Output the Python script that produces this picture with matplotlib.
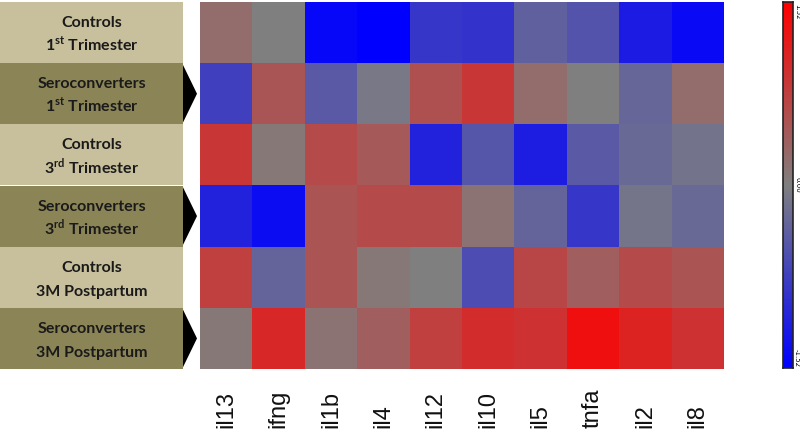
import numpy as np
import matplotlib
matplotlib.use("Agg")
import matplotlib.pyplot as plt
from matplotlib.colors import LinearSegmentedColormap
from matplotlib.patches import Rectangle, Polygon

plt.rcParams["mathtext.fontset"] = "custom"
plt.rcParams["mathtext.rm"] = "Lato:bold"
plt.rcParams["mathtext.bf"] = "Lato:bold"

# Data
cytokines = ["il13", "ifng", "il1b", "il4", "il12", "il10", "il5", "tnfa", "il2", "il8"]
group_names = ["Controls", "Seroconverters", "Controls", "Seroconverters", "Controls", "Seroconverters"]
group_times = [
    "1$^{\\mathrm{st}}$ Trimester",
    "1$^{\\mathrm{st}}$ Trimester",
    "3$^{\\mathrm{rd}}$ Trimester",
    "3$^{\\mathrm{rd}}$ Trimester",
    "3M Postpartum",
    "3M Postpartum",
]
controls_1st = [0.23, 0.00, -1.44, -1.52, -0.87, -0.91, -0.38, -0.53, -1.19, -1.41]
sero_1st = [-0.76, 0.50, -0.46, -0.09, 0.56, 0.87, 0.23, 0.00, -0.30, 0.23]
controls_3rd = [0.87, 0.09, 0.64, 0.46, -1.11, -0.50, -1.17, -0.46, -0.27, -0.15]
sero_3rd = [-1.11, -1.37, 0.52, 0.64, 0.64, 0.15, -0.33, -0.87, -0.12, -0.27]
controls_3m = [0.76, -0.33, 0.52, 0.09, 0.00, -0.61, 0.68, 0.40, 0.64, 0.52]
sero_3m = [0.09, 1.05, 0.15, 0.40, 0.76, 0.99, 0.93, 1.34, 1.11, 0.93]
vlim = 1.52

values = np.array([controls_1st, sero_1st, controls_3rd, sero_3rd, controls_3m, sero_3m])

cmap = LinearSegmentedColormap.from_list("bgr", ["#0000ff", "#808080", "#ff0000"])

W, H = 800, 433
fig = plt.figure(figsize=(8, 4.33), dpi=100)


def px_axes(x0, y0, x1, y1):
    return fig.add_axes([x0 / W, 1 - y1 / H, (x1 - x0) / W, (y1 - y0) / H])


# heatmap
ax = px_axes(200, 2, 724, 369)
ax.imshow(values, cmap=cmap, vmin=-vlim, vmax=vlim, aspect="auto", interpolation="nearest")
ax.set_xticks([])
ax.set_yticks([])
for s in ax.spines.values():
    s.set_visible(False)

# column labels
for i, name in enumerate(cytokines):
    x = (200 + (i + 0.5) * 524 / len(cytokines)) / W
    fig.text(x, 1 - 428 / H, name, rotation=90, ha="center", va="bottom",
             fontsize=17, family="Liberation Sans", color="#111111")

# row label boxes
lab = px_axes(0, 2, 200, 369)
lab.set_xlim(0, 200)
lab.set_ylim(len(group_names), 0)
lab.axis("off")
light, dark = "#c8c09c", "#8b8457"
for r in range(len(group_names)):
    col = light if r % 2 == 0 else dark
    lab.add_patch(Rectangle((0, r), 183, 1, facecolor=col, edgecolor="none"))
    if r % 2 == 1:
        lab.add_patch(Polygon([(183, r + 0.03), (197, r + 0.5), (183, r + 0.97)],
                              closed=True, facecolor="black", edgecolor="none"))
    lab.text(92, r + 0.41, group_names[r], ha="center", va="baseline", fontsize=11.5,
             family="Lato", fontweight="bold", color="#1a1a1a")
    lab.text(92, r + 0.80, group_times[r], ha="center", va="baseline", fontsize=11.5,
             family="Lato", fontweight="bold", color="#1a1a1a")

# colorbar
cax = px_axes(783, 2, 793, 368)
grad = np.linspace(vlim, -vlim, 256).reshape(-1, 1)
cax.imshow(grad, cmap=cmap, vmin=-vlim, vmax=vlim, aspect="auto")
cax.set_xticks([])
cax.set_yticks([])
for s in cax.spines.values():
    s.set_linewidth(1.2)
    s.set_color("#222222")
fig.text(797 / W, 1 - 4 / H, "1.52", rotation=270, ha="center", va="top", fontsize=5)
fig.text(797 / W, 1 - 185 / H, "0.00", rotation=270, ha="center", va="center", fontsize=5)
fig.text(797 / W, 1 - 367 / H, "-1.52", rotation=270, ha="center", va="bottom", fontsize=5)

fig.savefig("out.png", dpi=100, facecolor="white")
